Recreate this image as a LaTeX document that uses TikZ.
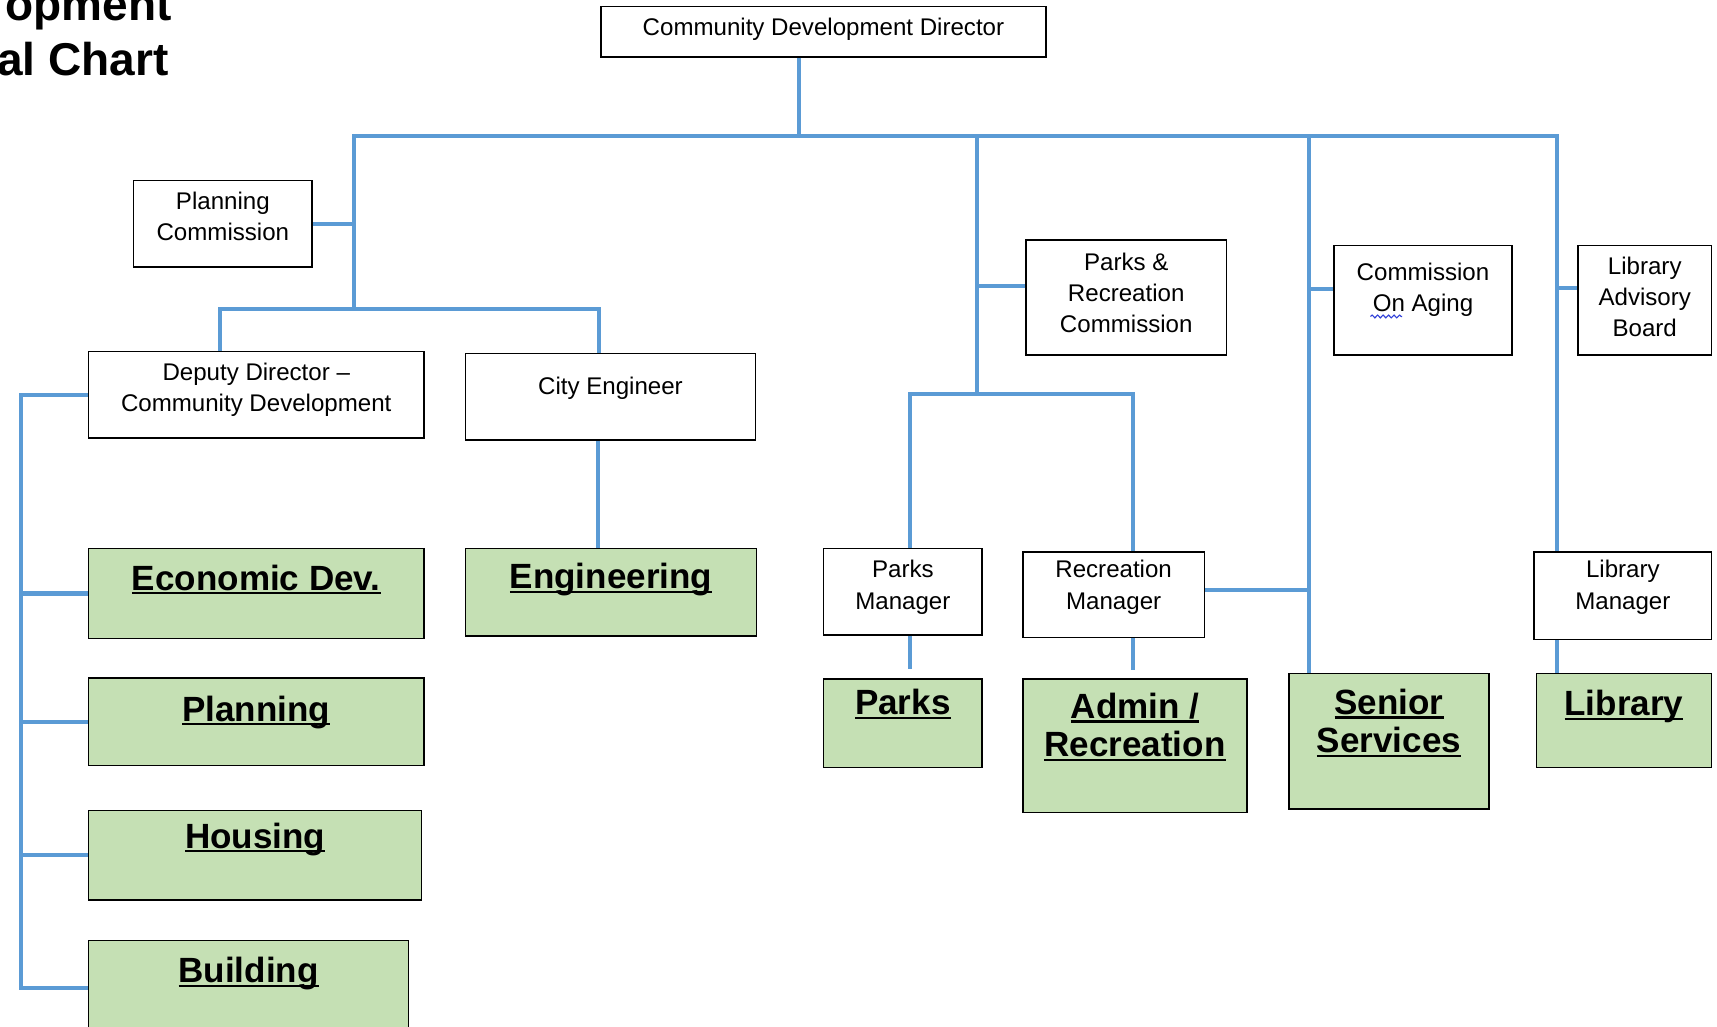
\documentclass[tikz,border=0pt]{standalone}
\usepackage{fontspec}
\setmainfont{Liberation Sans}
\usetikzlibrary{decorations.pathmorphing}
\definecolor{boxgreen}{HTML}{C5E0B4}
\definecolor{linkblue}{HTML}{5B9BD5}
\definecolor{squiggle}{HTML}{2F3FD8}
\newcommand{\ulword}[1]{\setbox0\hbox{#1}\rlap{\rule[-4pt]{\wd0}{2.2pt}}\box0}

\begin{document}
\begin{tikzpicture}[x=1pt,y=-1pt,
    wbox/.style={draw, line width=1.4pt, fill=white, inner sep=0pt},
    gbox/.style={wbox, fill=boxgreen},
    smalltxt/.style={anchor=center, inner sep=0pt, align=center, font=\fontsize{22}{28.5}\selectfont},
    bigtxt/.style={anchor=center, inner sep=0pt, align=center, font=\fontsize{32}{35}\selectfont\bfseries},
    ttl/.style={inner sep=0pt, font=\fontsize{42}{50}\selectfont\bfseries},
    link/.style={linkblue, line width=3.7pt}]
  \useasboundingbox (0,0) rectangle (1568,937);
  \clip (0,0) rectangle (1568,937);

  % title, cut at the left edge
  \node[ttl, anchor=base east] (ttlone) at (157,19) {opment};
  \node[ttl, anchor=base east] (ttltwo) at (154,68.5) {al Chart};

  % white boxes
  \node[wbox, minimum width=406pt, minimum height=46pt, label={[smalltxt,yshift=-21pt]north:Community Development Director}] (dir) at (752,29) {};
  \node[wbox, minimum width=163pt, minimum height=79pt, label={[smalltxt,yshift=-33pt]north:{Planning\\Commission}}] (plancom) at (203.5,204.5) {};
  \node[wbox, minimum width=306pt, minimum height=79pt, label={[smalltxt,yshift=-35.5pt]north:{Deputy Director --\\Community Development}}] (deputy) at (234,360.5) {};
  \node[wbox, minimum width=265pt, minimum height=79pt, label={[smalltxt,yshift=-32pt]north:City Engineer}] (cityeng) at (557.5,362.5) {};
  \node[wbox, minimum width=183pt, minimum height=105pt, label={[smalltxt,yshift=-49pt]north:{Parks \&\\Recreation\\Commission}}] (parkscom) at (1028.5,271.5) {};
  \node[wbox, minimum width=163pt, minimum height=100pt, label={[smalltxt,yshift=-41pt]north:{Commission\\On Aging}}] (aging) at (1299.5,274) {};
  \node[wbox, minimum width=122pt, minimum height=100pt, label={[smalltxt,yshift=-48pt]north:{Library\\Advisory\\Board}}] (libboard) at (1502,274) {};
  \node[wbox, minimum width=145pt, minimum height=79pt, label={[smalltxt,yshift=-36pt]north:{Parks\\Manager}}] (parksmgr) at (824.5,540.5) {};
  \node[wbox, minimum width=166pt, minimum height=78pt, label={[smalltxt,yshift=-33pt]north:{Recreation\\Manager}}] (recmgr) at (1017,543) {};
  \node[wbox, minimum width=162pt, minimum height=80pt, label={[smalltxt,yshift=-33pt]north:{Library\\Manager}}] (libmgr) at (1482,544) {};

  % green boxes
  \node[gbox, minimum width=306pt, minimum height=82pt, label={[bigtxt,yshift=-29pt]north:\ulword{Economic Dev.}}] (econ) at (234,542) {};
  \node[gbox, minimum width=266pt, minimum height=80pt, label={[bigtxt,yshift=-29pt]north:\ulword{Engineering}}] (engin) at (558,541) {};
  \node[gbox, minimum width=306pt, minimum height=80pt, label={[bigtxt,yshift=-32pt]north:\ulword{Planning}}] (planning) at (234,659) {};
  \node[gbox, minimum width=304pt, minimum height=82pt, label={[bigtxt,yshift=-27pt]north:\ulword{Housing}}] (housing) at (233,781) {};
  \node[gbox, minimum width=292pt, minimum height=86pt, label={[bigtxt,yshift=-31pt]north:\ulword{Building}}] (building) at (227,902) {};
  \node[gbox, minimum width=145pt, minimum height=81pt, label={[bigtxt,yshift=-24pt]north:\ulword{Parks}}] (parks) at (824.5,660.5) {};
  \node[gbox, minimum width=205pt, minimum height=122pt, label={[bigtxt,yshift=-44.5pt]north:{\ulword{Admin /}\\\ulword{Recreation}}}] (admin) at (1036.5,681) {};
  \node[gbox, minimum width=183pt, minimum height=124pt, label={[bigtxt,yshift=-46pt]north:{\ulword{Senior}\\\ulword{Services}}}] (senior) at (1268.5,677) {};
  \node[gbox, minimum width=160pt, minimum height=86pt, label={[bigtxt,yshift=-31pt]north:\ulword{Library}}] (library) at (1483,658) {};

  % connectors
  \coordinate (topL) at (323,124);
  \coordinate (topR) at (1422,124);
  \coordinate (engJ) at (323,282);
  \coordinate (parksJ) at (892,360);
  \coordinate (seniorJ) at (1195,124);
  \coordinate (spine) at (19,360.5);
  \coordinate (dirbot) at ([xshift=-22pt]dir.south);
  \coordinate (deptop) at ([xshift=-33pt]deputy.north);
  \coordinate (cetop) at ([xshift=-10.5pt]cityeng.north);
  \coordinate (cebot) at ([xshift=-11.5pt]cityeng.south);
  \coordinate (engtop) at ([xshift=-12pt]engin.north);
  \coordinate (pcjoin) at ([yshift=10.5pt]parkscom.west);
  \coordinate (agejoin) at ([yshift=10pt]aging.west);
  \coordinate (lbjoin) at ([yshift=11pt]libboard.west);
  \coordinate (pmtop) at ([xshift=6.5pt]parksmgr.north);
  \coordinate (pmbot) at ([xshift=6.5pt]parksmgr.south);
  \coordinate (parkstop) at ([xshift=6.5pt,yshift=8pt]parks.north);
  \coordinate (rmtop) at ([xshift=18pt]recmgr.north);
  \coordinate (rmbot) at ([xshift=18pt]recmgr.south);
  \coordinate (admintop) at ([xshift=-1.5pt,yshift=7pt]admin.north);
  \coordinate (rmjoin) at ([yshift=4pt]recmgr.east);

  \draw[link] (dirbot) -- (dirbot |- topL);
  \draw[link] (engJ) -- (topL) -- (topR) -- (topR |- libmgr.north);
  \draw[link] (plancom.east) -- (plancom.east -| topL);
  \draw[link] (deptop) |- (engJ) -| (cetop);
  \draw[link] (cebot) -- (engtop);
  \draw[link] (deputy.west) -- (spine) -- (spine |- building.west) -- (building.west);
  \foreach \n in {econ,planning,housing}
    \draw[link] (\n.west) -- (\n.west -| spine);
  \draw[link] (parksJ |- topL) -- (parksJ);
  \draw[link] (pcjoin) -- (pcjoin -| parksJ);
  \draw[link] (pmtop) |- (parksJ) -| (rmtop);
  \draw[link] (pmbot) -- (parkstop);
  \draw[link] (rmbot) -- (admintop);
  \draw[link] (seniorJ) -- (seniorJ |- senior.north);
  \draw[link] (agejoin) -- (agejoin -| seniorJ);
  \draw[link] (rmjoin) -- (rmjoin -| seniorJ);
  \draw[link] (lbjoin) -- (lbjoin -| topR);
  \draw[link] (topR |- libmgr.south) -- (topR |- library.north);

  % spell-check mark under "On"
  \draw[squiggle, line width=1pt, decorate, decoration={snake, amplitude=1.3pt, segment length=5pt}]
    ([xshift=-48pt,yshift=-15pt]aging.center) -- ([xshift=-19pt,yshift=-15pt]aging.center);
\end{tikzpicture}
\end{document}
